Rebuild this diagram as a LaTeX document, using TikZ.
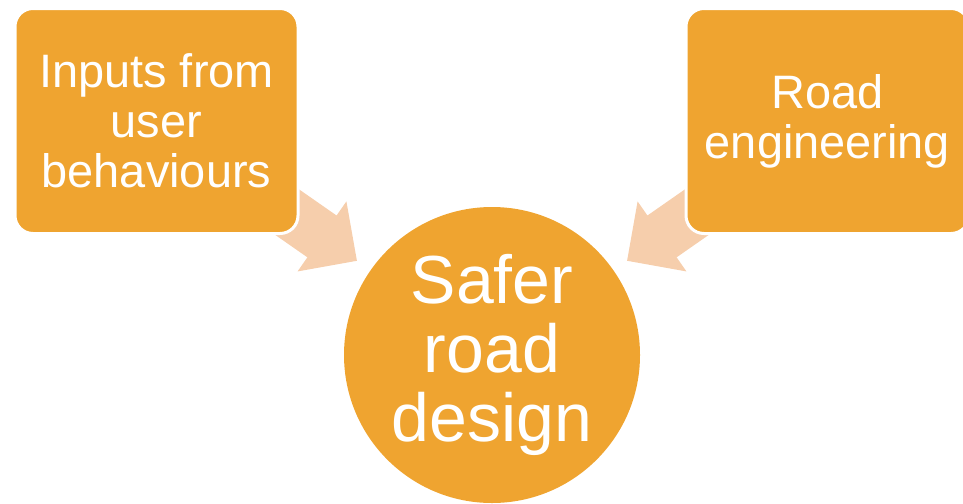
\documentclass[tikz,border=0pt]{standalone}
\usepackage{fontspec}
\setmainfont{Liberation Sans}
\usetikzlibrary{positioning,calc,backgrounds}
\definecolor{rdorange}{RGB}{239,164,48}
\definecolor{rdpeach}{RGB}{246,206,172}
\tikzset{
  rd box/.style={rectangle, rounded corners=0.36cm, fill=rdorange, draw=white, line width=0.06cm, text=white, align=center, minimum width=5.66cm, minimum height=4.5cm, font=\fontsize{26.7}{28.45}\selectfont},
  rd hub/.style={circle, fill=rdorange, text=white, align=center, minimum size=5.92cm, inner sep=0pt, font=\fontsize{38.7}{39.3}\selectfont},
  rd arrow/.style={fill=rdpeach}
}

\begin{document}
\begin{tikzpicture}
    \useasboundingbox (0,0) rectangle (19.26,10.06);

    % Inputs
    \node [rd box] (Inputs) at (3.13,7.64) {Inputs from\\user\\behaviours};
    \node [rd box, right=7.7cm of Inputs] (Road) {Road\\engineering};

    % Outcome
    \node [rd hub] (Safer) at (9.84,2.96) {Safer\\road\\design};

    % Block arrows (behind the boxes)
    \begin{scope}[on background layer]
    \foreach \src in {Inputs,Road}{
        \coordinate (tip) at ($(Safer.center)!3.294cm!(\src.center)$);
        \coordinate (neck) at ($(tip)!0.852cm!(\src.center)$);
        \coordinate (tail) at ($(tip)!2.4cm!(\src.center)$);
        \fill [rd arrow] (tip) -- ($(neck)!0.854cm!90:(tip)$) -- ($(neck)!0.51cm!90:(tip)$)
            -- ($(tail)!0.51cm!90:(tip)$) -- ($(tail)!0.51cm!-90:(tip)$)
            -- ($(neck)!0.51cm!-90:(tip)$) -- ($(neck)!0.854cm!-90:(tip)$) -- cycle;
    }
    \end{scope}
\end{tikzpicture}
\end{document}
